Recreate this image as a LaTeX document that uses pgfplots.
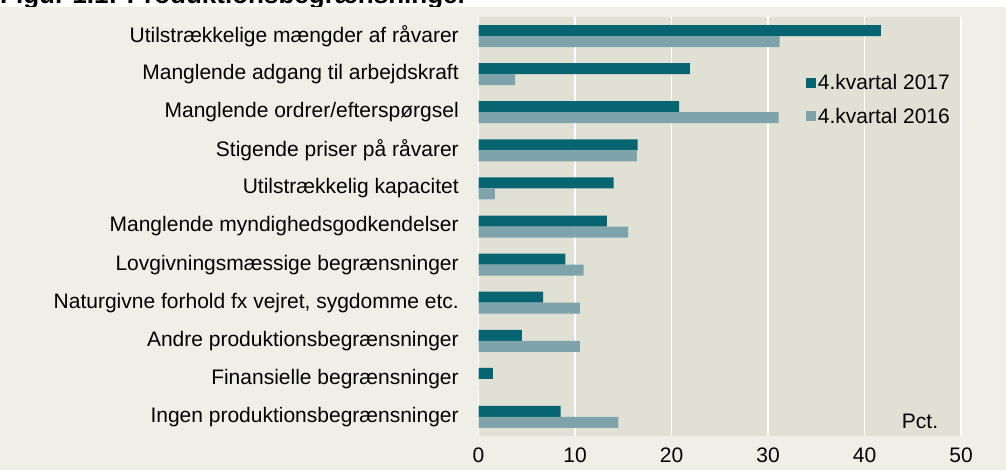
\documentclass[border=0pt]{standalone}
\usepackage{fontspec}
\setmainfont{Liberation Sans}
\usepackage{pgfplots}
\pgfplotsset{compat=1.18}
\definecolor{outerbg}{RGB}{239,239,232}
\definecolor{innerbg}{RGB}{224,224,212}
\definecolor{dark}{RGB}{6,101,112}
\definecolor{light}{RGB}{127,163,171}
\begin{document}
\begin{tikzpicture}[x=1bp,y=1bp]
\clip (0,0) rectangle (1006,-470);
\fill[white] (0,0) rectangle (1006,-470);
\node[anchor=base west,inner sep=0pt,font=\fontsize{26bp}{30bp}\selectfont\bfseries] at (0,-4) {Figur 1.1: Produktionsbegrænsninger};
\fill[outerbg] (0,-7) rectangle (1006,-470);
\begin{axis}[
  at={(478.5bp,-436bp)}, anchor=south west,
  scale only axis, width=482.5bp, height=419bp,
  xbar, bar width=11bp,
  xmin=0, xmax=50, ymin=-0.5, ymax=10.5,
  axis background/.style={fill=innerbg},
  axis line style={draw=none},
  xtick={0,10,20,30,40,50},
  ytick={0,...,10},
  yticklabels={Ingen produktionsbegrænsninger,Finansielle begrænsninger,Andre produktionsbegrænsninger,{Naturgivne forhold fx vejret, sygdomme etc.},Lovgivningsmæssige begrænsninger,Manglende myndighedsgodkendelser,Utilstrækkelig kapacitet,Stigende priser på råvarer,Manglende ordrer/efterspørgsel,Manglende adgang til arbejdskraft,Utilstrækkelige mængder af råvarer},
  tick style={draw=none},
  xmajorgrids, grid style={white, line width=1.5bp},
  ticklabel style={font=\fontsize{21bp}{25bp}\selectfont},
  /pgf/number format/assume math mode=true,
  yticklabel style={xshift=-12bp},
  xticklabel style={yshift=-8bp},
  legend style={draw=none, fill=none, at={(0.672,0.873)}, anchor=north west,
    font=\fontsize{21bp}{25bp}\selectfont, row sep=13bp,
    /tikz/every even column/.append style={column sep=6bp}},
  legend cell align=left,
  legend image code/.code={\fill[#1] (0bp,-5bp) rectangle (10bp,5bp);},
  clip=false,
]
\addplot[fill=dark, draw=none, bar shift=5.5bp] coordinates {
 (8.5,0) (1.5,1) (4.5,2) (6.7,3) (9.0,4) (13.3,5) (14.0,6) (16.5,7) (20.8,8) (21.9,9) (41.7,10)};
\addplot[fill=light, draw=none, bar shift=-5.5bp] coordinates {
 (14.5,0) (0,1) (10.5,2) (10.5,3) (10.9,4) (15.5,5) (1.7,6) (16.4,7) (31.1,8) (3.8,9) (31.2,10)};
\legend{4.kvartal 2017,4.kvartal 2016}
\node[font=\fontsize{21bp}{25bp}\selectfont] at (rel axis cs:0.915,0.036) {Pct.};
\end{axis}
\end{tikzpicture}
\end{document}
